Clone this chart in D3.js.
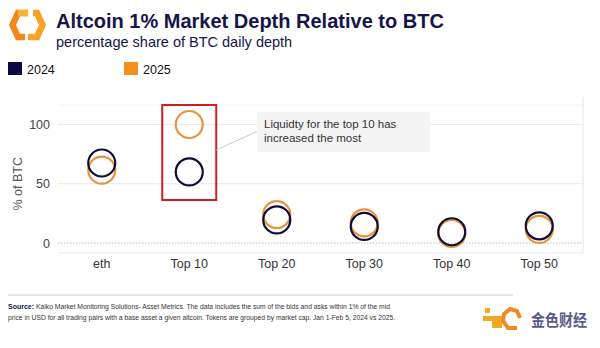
<!DOCTYPE html>
<html>
<head>
<meta charset="utf-8">
<script src="https://cdn.jsdelivr.net/npm/d3@7"></script>
<style>
  body { margin: 0; background: #fff; }
  svg { display: block; font-family: Arial, "Liberation Sans", sans-serif; }
</style>
</head>
<body>
<svg id="chart" width="600" height="348"></svg>
<script>
// Categories and series values (% of BTC daily depth)
const categories = ['eth', 'Top 10', 'Top 20', 'Top 30', 'Top 40', 'Top 50'];
const depth2024 = [67.5, 60, 19.5, 14, 9.5, 14.5];
const depth2025 = [61.5, 100, 24, 17, 8, 11.5];
const yTicks = [0, 50, 100];
const seriesNames = ['2024', '2025'];

const colors = { '2024': '#0e0e36', '2025': '#e8933e' };
const navy = '#15154a';

const svg = d3.select('#chart');

// Plot area
const plot = { left: 58, right: 583, top: 105, bottom: 253 };

const x = d3.scaleBand()
    .domain(categories)
    .range([plot.left, plot.right])
    .padding(0);

const y = d3.scaleLinear()
    .domain([0, 100])
    .range([243, 124.5]);

// Header logo: hexagon split into two chevrons
const logo = svg.append('g');
logo.append('path')
    .attr('d', d3.line()([[28, 13], [18, 13], [12.5, 25], [18, 37], [25, 37]]))
    .attr('fill', 'none').attr('stroke', '#f4861f').attr('stroke-width', 6.5)
    .attr('stroke-linejoin', 'miter');
logo.append('path')
    .attr('d', d3.line()([[18, 13], [28, 13]]))
    .attr('fill', 'none').attr('stroke', '#f9b233').attr('stroke-width', 6.5);
logo.append('path')
    .attr('d', d3.line()([[33, 13], [37, 13], [42.5, 25], [37, 37], [28, 37]]))
    .attr('fill', 'none').attr('stroke', '#f7a224').attr('stroke-width', 6.5)
    .attr('stroke-linejoin', 'miter');

// Title and subtitle
svg.append('text')
    .attr('x', 56).attr('y', 28)
    .attr('fill', navy)
    .style('font-size', '20px').style('font-weight', 'bold')
    .text('Altcoin 1% Market Depth Relative to BTC');

svg.append('text')
    .attr('x', 56).attr('y', 47)
    .attr('fill', navy)
    .style('font-size', '14.5px')
    .text('percentage share of BTC daily depth');

// Legend
seriesNames.forEach((s, i) => {
    const g = svg.append('g').attr('transform', `translate(${8 + i * 116},62)`);
    g.append('rect').attr('width', 14).attr('height', 13).attr('fill', s === '2024' ? '#0a0a40' : '#f5901e');
    g.append('text').attr('x', 19).attr('y', 12)
        .attr('fill', '#111').style('font-size', '12.5px').text(s);
});

// Gridlines
svg.append('g')
    .selectAll('line')
    .data(yTicks.filter(d => d > 0))
    .join('line')
    .attr('x1', plot.left).attr('x2', plot.right)
    .attr('y1', d => y(d)).attr('y2', d => y(d))
    .attr('stroke', '#e9e9ee').attr('stroke-width', 1);

svg.append('line')
    .attr('x1', plot.left).attr('x2', plot.right)
    .attr('y1', plot.top).attr('y2', plot.top)
    .attr('stroke', '#f2f2f2');

// Zero line (dotted)
svg.append('line')
    .attr('x1', plot.left).attr('x2', plot.right)
    .attr('y1', y(0)).attr('y2', y(0))
    .attr('stroke', '#b8b8b8').attr('stroke-width', 1)
    .attr('stroke-dasharray', '1.5,1.5');

// Panel borders
svg.append('line')
    .attr('x1', plot.left).attr('x2', plot.right)
    .attr('y1', plot.bottom).attr('y2', plot.bottom)
    .attr('stroke', '#ececec');
svg.append('line')
    .attr('x1', plot.right).attr('x2', plot.right)
    .attr('y1', plot.top - 8).attr('y2', plot.bottom)
    .attr('stroke', '#e6e6e6');

// Y axis tick labels
svg.append('g')
    .selectAll('text')
    .data(yTicks)
    .join('text')
    .attr('x', 50).attr('y', d => y(d) + 4.5)
    .attr('text-anchor', 'end')
    .attr('fill', '#444')
    .style('font-size', '12.5px')
    .text(d => d);

svg.append('text')
    .attr('transform', `translate(22,${y(50)}) rotate(-90)`)
    .attr('text-anchor', 'middle')
    .attr('fill', '#555')
    .style('font-size', '12.5px')
    .text('% of BTC');

// X axis category labels
svg.append('g')
    .selectAll('text')
    .data(categories)
    .join('text')
    .attr('x', d => x(d) + x.bandwidth() / 2)
    .attr('y', 268)
    .attr('text-anchor', 'middle')
    .attr('fill', '#333')
    .style('font-size', '12.5px')
    .text(d => d);

// Highlight box around Top 10
const hx = x('Top 10') + x.bandwidth() / 2;
svg.append('rect')
    .attr('x', hx - 27).attr('y', 105)
    .attr('width', 54).attr('height', 95)
    .attr('fill', 'none')
    .attr('stroke', '#cc1f1f').attr('stroke-width', 2);

// Annotation callout
svg.append('line')
    .attr('x1', hx + 27).attr('y1', 150)
    .attr('x2', 258).attr('y2', 131)
    .attr('stroke', '#c8c8c8').attr('stroke-width', 1);
svg.append('rect')
    .attr('x', 257).attr('y', 112)
    .attr('width', 173).attr('height', 40)
    .attr('fill', '#f4f4f4');
svg.append('text')
    .attr('x', 264).attr('y', 128)
    .attr('fill', '#333')
    .style('font-size', '11.5px')
    .selectAll('tspan')
    .data(['Liquidty for the top 10 has', 'increased the most'])
    .join('tspan')
    .attr('x', 264)
    .attr('dy', (d, i) => i ? 14 : 0)
    .text(d => d);

// Circle markers: 2025 drawn first, 2024 on top
const points = [];
categories.forEach((c, i) => {
    points.push({ cat: c, series: '2025', value: depth2025[i] });
});
categories.forEach((c, i) => {
    points.push({ cat: c, series: '2024', value: depth2024[i] });
});

svg.append('g')
    .selectAll('circle')
    .data(points)
    .join('circle')
    .attr('cx', d => x(d.cat) + x.bandwidth() / 2)
    .attr('cy', d => y(d.value))
    .attr('r', 13.5)
    .attr('fill', 'none')
    .attr('stroke', d => colors[d.series])
    .attr('stroke-width', 2.2);

// Footer
svg.append('line')
    .attr('x1', 8).attr('x2', 513)
    .attr('y1', 295).attr('y2', 295)
    .attr('stroke', '#cfcfcf').attr('stroke-width', 1);

const foot = svg.append('g').style('font-size', '7px').attr('fill', '#333');
foot.append('text').attr('x', 8).attr('y', 309)
    .attr('fill', navy).style('font-weight', 'bold')
    .text('Source:');
foot.append('text').attr('x', 36).attr('y', 309)
    .attr('textLength', 354).attr('lengthAdjust', 'spacingAndGlyphs')
    .text('Kaiko Market Monitoring Solutions- Asset Metrics. The data includes the sum of the bids and asks within 1% of the mid');
foot.append('text').attr('x', 8).attr('y', 320)
    .attr('textLength', 387).attr('lengthAdjust', 'spacingAndGlyphs')
    .text('price in USD for all trading pairs with a base asset  a given altcoin. Tokens are grouped by market cap. Jan 1-Feb 5, 2024 vs 2025.');

// Bottom-right watermark
const wm = svg.append('g').attr('transform', 'translate(483,304)');
wm.append('rect').attr('x', 9).attr('y', 12).attr('width', 10).attr('height', 12).attr('fill', '#f2a825');
wm.append('rect').attr('x', 0).attr('y', 12).attr('width', 10).attr('height', 5).attr('fill', '#f2a825');
wm.append('rect').attr('x', 2).attr('y', 4).attr('width', 5).attr('height', 5).attr('fill', '#f2a825');
wm.append('path')
    .attr('d', d3.line()([[37, 14], [34, 7], [27, 5], [21, 10], [20, 17], [25, 24], [34, 24]]))
    .attr('fill', 'none').attr('stroke', '#f08a24').attr('stroke-width', 4);
wm.append('text').attr('x', 48).attr('y', 22)
    .attr('fill', '#5a5a8a')
    .attr('textLength', 56).attr('lengthAdjust', 'spacingAndGlyphs')
    .style('font-size', '16px').style('font-weight', 'bold')
    .style('font-family', '"Noto Sans CJK SC", sans-serif')
    .text('金色财经');
</script>
</body>
</html>
